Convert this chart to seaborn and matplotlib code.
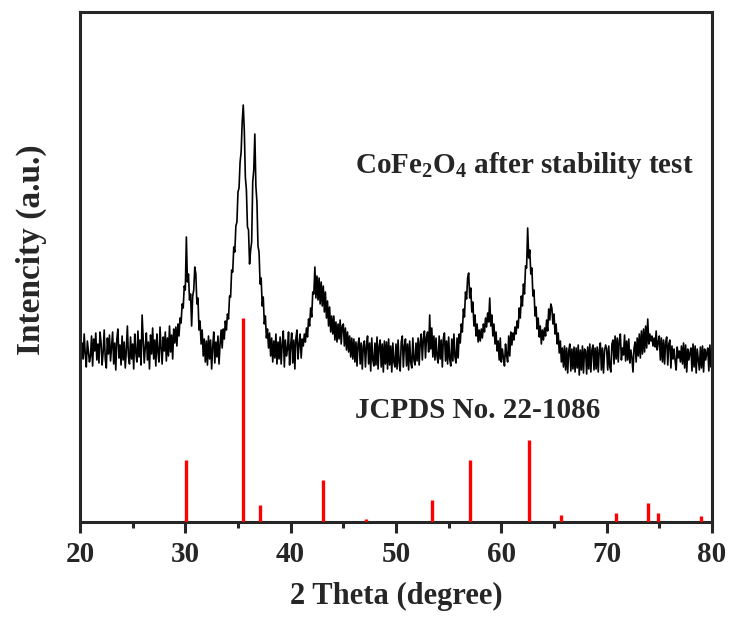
import matplotlib
matplotlib.use("Agg")
import matplotlib.pyplot as plt
import seaborn as sns
import numpy as np
import pandas as pd

# XRD pattern, 20.0 .. 80.0 deg in 0.1 deg steps (a.u.)
two_theta = np.round(np.arange(200, 801) / 10.0, 1)
intensity = [
    184, 158, 179, 163, 188, 168, 155, 181, 170, 160,
    166, 186, 156, 183, 171, 189, 162, 178, 159, 190,
    180, 157, 170, 192, 163, 154, 184, 168, 187, 161,
    175, 190, 158, 179, 152, 183, 193, 164, 177, 157,
    186, 162, 180, 154, 172, 196, 166, 158, 185, 163,
    178, 153, 188, 170, 160, 191, 165, 182, 157, 207,
    183, 159, 175, 189, 162, 180, 153, 187, 168, 194,
    163, 182, 156, 188, 170, 160, 195, 174, 158, 185,
    171, 190, 161, 184, 166, 196, 170, 187, 163, 193,
    179, 195, 176, 198, 186, 204, 199, 218, 214, 236,
    232, 285, 240, 248, 222, 228, 196, 226, 232, 255,
    248, 218, 224, 192, 201, 178, 192, 166, 183, 160,
    181, 157, 186, 163, 182, 153, 175, 190, 159, 180,
    165, 186, 158, 178, 192, 174, 193, 183, 201, 192,
    208, 203, 226, 225, 252, 250, 275, 270, 296, 300,
    330, 334, 360, 370, 400, 417, 392, 345, 332, 295,
    292, 258, 272, 280, 340, 352, 388, 336, 320, 276,
    270, 238, 244, 216, 225, 198, 206, 184, 193, 174,
    189, 166, 184, 160, 181, 164, 188, 158, 180, 163,
    185, 158, 178, 191, 155, 182, 166, 173, 190, 157,
    176, 189, 159, 182, 153, 184, 192, 163, 178, 188,
    164, 183, 176, 188, 180, 194, 185, 203, 196, 214,
    205, 230, 228, 255, 224, 246, 222, 244, 218, 240,
    216, 236, 210, 230, 204, 221, 196, 215, 190, 206,
    188, 206, 182, 200, 180, 198, 183, 202, 178, 196,
    198, 176, 194, 172, 190, 170, 186, 165, 184, 163,
    183, 160, 180, 156, 178, 184, 158, 179, 153, 176,
    181, 155, 176, 186, 158, 179, 151, 184, 162, 156,
    179, 157, 185, 153, 176, 182, 155, 178, 150, 181,
    158, 180, 153, 183, 157, 176, 150, 179, 160, 155,
    178, 153, 182, 159, 151, 180, 186, 155, 176, 183,
    156, 178, 152, 181, 160, 154, 184, 162, 157, 179,
    161, 184, 157, 180, 188, 162, 183, 191, 164, 185,
    190, 170, 207, 173, 194, 165, 186, 162, 184, 165,
    159, 186, 163, 182, 155, 184, 189, 161, 181, 158,
    185, 163, 156, 183, 161, 188, 165, 159, 184, 164,
    188, 179, 198, 190, 213, 205, 230, 223, 244, 249,
    224, 234, 210, 220, 196, 207, 186, 198, 180, 192,
    181, 193, 184, 198, 190, 204, 195, 209, 200, 224,
    196, 207, 186, 198, 178, 190, 171, 181, 162, 184,
    160, 173, 164, 156, 178, 167, 160, 186, 166, 190,
    177, 189, 182, 195, 188, 201, 194, 214, 204, 226,
    216, 238, 228, 256, 254, 294, 264, 272, 248, 254,
    226, 232, 206, 215, 193, 204, 185, 196, 178, 192,
    182, 194, 186, 202, 191, 213, 202, 218, 214, 198,
    208, 188, 198, 178, 189, 169, 181, 160, 174, 155,
    176, 152, 174, 149, 171, 178, 151, 173, 153, 175,
    150, 174, 154, 177, 147, 172, 152, 176, 149, 173,
    171, 148, 175, 153, 178, 150, 172, 177, 152, 174,
    153, 175, 150, 172, 179, 152, 174, 149, 171, 177,
    173, 152, 176, 155, 150, 178, 182, 158, 186, 163,
    184, 160, 182, 188, 162, 174, 167, 187, 161, 181,
    162, 183, 159, 172, 164, 150, 174, 180, 160, 184,
    166, 188, 164, 191, 168, 193, 170, 196, 174, 203,
    178, 188, 181, 186, 176, 184, 175, 191, 172, 180,
    186, 162, 184, 160, 182, 158, 180, 185, 157, 178,
    182, 154, 176, 163, 173, 161, 152, 175, 164, 171,
    160, 176, 158, 179, 154, 177, 150, 173, 162, 169,
    174, 151, 178, 155, 176, 149, 173, 163, 152, 175,
    154, 176, 150, 173, 162, 169, 174, 151, 177, 155,
    170,
]

# JCPDS No. 22-1086 reference lines (relative intensity, %)
ref_pos = [30.08, 35.44, 37.06, 43.06, 47.13, 53.45, 56.98, 62.59,
           65.70, 70.90, 73.90, 74.90, 79.00]
ref_int = [30.4, 100, 8.5, 20.6, 1.6, 10.6, 30.4, 40.2, 3.6, 4.6, 9.5, 4.6, 3.0]

sns.set_style("ticks")
plt.rcParams['font.family'] = ['Liberation Serif', 'DejaVu Serif']
plt.rcParams['font.weight'] = 'bold'
plt.rcParams['mathtext.fontset'] = 'custom'
plt.rcParams['mathtext.bf'] = 'Liberation Serif:bold'
plt.rcParams['mathtext.rm'] = 'Liberation Serif:bold'
plt.rcParams['mathtext.default'] = 'bf'

df = pd.DataFrame({"2theta": two_theta, "I": intensity})

fig = plt.figure(figsize=(7.31, 6.19), dpi=100)
ax = fig.add_axes([0.1094, 0.1567, 0.8646, 0.8239])

sns.lineplot(data=df, x="2theta", y="I", color="black", linewidth=1.2,
             estimator=None, sort=False, ax=ax)

# stick pattern scaled so 100 % sits below the sample trace
stick_scale = 2.04
ax.vlines(ref_pos, 0, np.array(ref_int) * stick_scale, color="#ff0000",
          linewidth=2.4, zorder=3)

ax.set_xlim(20, 80)
ax.set_ylim(0, 510)
ax.set_xticks(range(20, 81, 10))
ax.set_xticks(range(25, 80, 10), minor=True)
ax.set_yticks([])
for s in ax.spines.values():
    s.set_linewidth(2.2)
    s.set_visible(True)
ax.tick_params(axis='x', which='major', direction='out', length=8, width=2.2,
               labelsize=21, pad=6)
ax.tick_params(axis='x', which='minor', direction='out', length=4, width=2.2)
ax.tick_params(axis='x', top=False)

ax.set_xlabel("2 Theta (degree)", fontsize=22, fontweight='bold', labelpad=10)
ax.set_ylabel("Intencity (a.u.)", fontsize=24, fontweight='bold')
ax.yaxis.set_label_coords(-0.052, 0.533)

ax.text(46.1, 357, "CoFe$_2$O$_4$ after stability test", fontsize=21,
        fontweight='bold', va='center', ha='left')
ax.text(46.1, 112, "JCPDS No. 22-1086", fontsize=21, fontweight='bold',
        va='center', ha='left')

fig.savefig("out.png", dpi=100)
